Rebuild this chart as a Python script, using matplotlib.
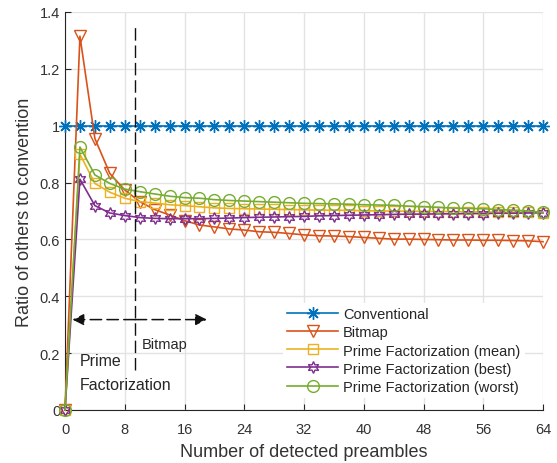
import matplotlib
matplotlib.use("Agg")
import matplotlib.pyplot as plt
import numpy as np

plt.rcParams['font.family'] = ['Liberation Sans', 'DejaVu Sans']

x = list(range(0, 65, 2))
conventional = [1.0] * 33
bitmap = [0, 1.315, 0.955, 0.832, 0.774, 0.733, 0.705, 0.686, 0.666, 0.651, 0.644,
          0.637, 0.633, 0.627, 0.625, 0.621, 0.616, 0.613, 0.612, 0.610, 0.607,
          0.604, 0.601, 0.601, 0.600, 0.599, 0.598, 0.598, 0.597, 0.597, 0.596, 0.595, 0.592]
pf_mean = [0, 0.90, 0.797, 0.766, 0.745, 0.733, 0.728, 0.722, 0.719, 0.715, 0.711,
           0.709, 0.708, 0.707, 0.706, 0.705, 0.704, 0.703, 0.703, 0.702, 0.701,
           0.700, 0.700, 0.699, 0.699, 0.698, 0.698, 0.697, 0.697, 0.696, 0.696, 0.695, 0.694]
pf_best = [0, 0.812, 0.719, 0.693, 0.684, 0.677, 0.674, 0.673, 0.673, 0.673, 0.674,
           0.675, 0.677, 0.678, 0.679, 0.680, 0.681, 0.683, 0.684, 0.685, 0.686,
           0.687, 0.688, 0.689, 0.689, 0.690, 0.690, 0.691, 0.691, 0.692, 0.692, 0.693, 0.694]
pf_worst = [0, 0.925, 0.827, 0.797, 0.777, 0.768, 0.760, 0.752, 0.747, 0.745, 0.740,
            0.737, 0.735, 0.733, 0.731, 0.729, 0.727, 0.726, 0.725, 0.724, 0.722,
            0.721, 0.720, 0.717, 0.715, 0.713, 0.710, 0.709, 0.708, 0.705, 0.703, 0.700, 0.695]
labels = ['Conventional', 'Bitmap', 'Prime Factorization (mean)',
          'Prime Factorization (best)', 'Prime Factorization (worst)']
xticks = [0, 8, 16, 24, 32, 40, 48, 56, 64]
yticks = [0, 0.2, 0.4, 0.6, 0.8, 1.0, 1.2, 1.4]
ytick_labels = ['0', '0.2', '0.4', '0.6', '0.8', '1', '1.2', '1.4']

colors = ['#0072BD', '#D95319', '#EDB120', '#7E2F8E', '#77AC30']
markers = [(8, 2, 0), 'v', 's', (6, 1, 0), 'o']
msizes = [9, 9, 6.5, 8.5, 8.5]
series = [conventional, bitmap, pf_mean, pf_best, pf_worst]

fig = plt.figure(figsize=(5.57, 4.64), dpi=100)
ax = fig.add_axes([65/557, 1 - 411/464, (543-65)/557, (411-13)/464])
txtc = '#333333'

for y, c, m, ms, lab in zip(series, colors, markers, msizes, labels):
    ax.plot(x, y, color=c, marker=m, markersize=ms, markerfacecolor='none',
            markeredgecolor=c, markeredgewidth=1.0, linewidth=1.2, label=lab,
            clip_on=False, zorder=3)

ax.set_xlim(0, 64)
ax.set_ylim(0, 1.4)
ax.set_xticks(xticks)
ax.set_yticks(yticks)
ax.set_yticklabels(ytick_labels)
ax.grid(True, color='#e3e3e3', linewidth=1.0)
ax.set_axisbelow(True)
for s in ['top', 'right']:
    ax.spines[s].set_visible(False)
for s in ['left', 'bottom']:
    ax.spines[s].set_color('#262626')
    ax.spines[s].set_linewidth(0.8)
ax.tick_params(direction='in', length=4, width=0.8, colors='#262626',
               labelsize=10.5, labelcolor=txtc)
ax.tick_params(axis='x', pad=9)
ax.set_xlabel('Number of detected preambles', fontsize=13, color=txtc, labelpad=5)
ax.set_ylabel('Ratio of others to convention', fontsize=13, color=txtc, labelpad=5)

# annotations
ax.plot([9.4, 9.4], [0.14, 1.35], color='#111111', linestyle=(0, (9, 3.5)), linewidth=1.0, zorder=4)
for xe in (1.0, 19.0):
    ax.annotate('', xy=(xe, 0.318), xytext=(9.4, 0.318),
                arrowprops=dict(arrowstyle='-|>', linestyle=(0, (7.5, 3.5)), color='#111111',
                                lw=1.1, mutation_scale=17, shrinkA=0, shrinkB=0))
ax.text(10.3, 0.232, 'Bitmap', fontsize=10.5, color='#262626', va='center', ha='left')
ax.text(2.0, 0.173, 'Prime', fontsize=11.5, color='#262626', va='center', ha='left')
ax.text(2.0, 0.091, 'Factorization', fontsize=11.5, color='#262626', va='center', ha='left')

leg = ax.legend(loc='lower right', bbox_to_anchor=(0.962, 0.03), fontsize=10.5,
                frameon=True, facecolor='white', edgecolor='none', framealpha=1,
                handlelength=3.5, handletextpad=0.35, labelspacing=0.28,
                borderpad=0.3, borderaxespad=0)
for t in leg.get_texts():
    t.set_color('#262626')

fig.savefig('out.png', dpi=100)
